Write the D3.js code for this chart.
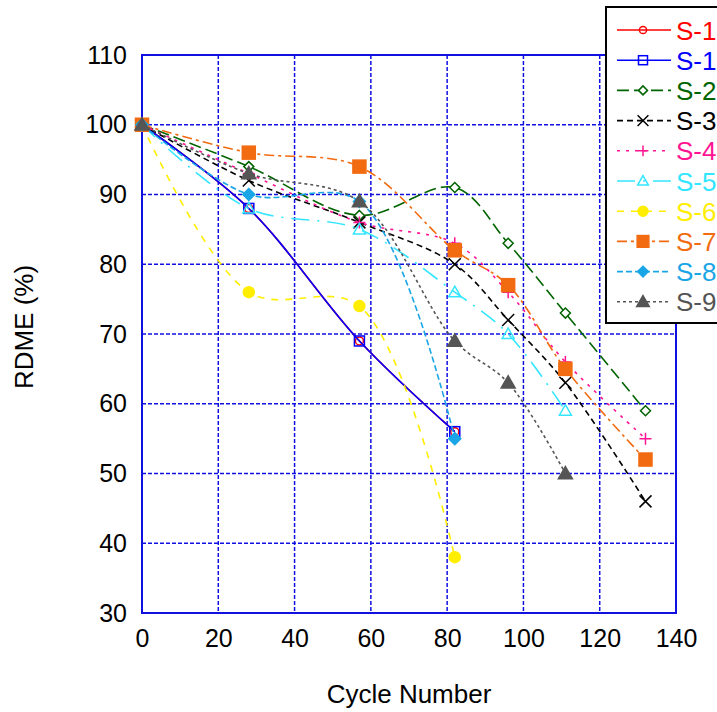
<!DOCTYPE html>
<html><head><meta charset="utf-8">
<script src="https://cdn.jsdelivr.net/npm/d3@7"></script>
<style>body{margin:0;background:#fff;}svg{display:block;font-family:"Liberation Sans",Arial,sans-serif;}</style>
</head><body><svg id="c" width="717" height="712"></svg>
<script>
const cycles = [0, 28, 57, 82, 96, 111, 132];
const seriesNames = ["S-1", "S-1", "S-2", "S-3", "S-4", "S-5", "S-6", "S-7", "S-8", "S-9"];
const s1a = [100, 88, 69, 56];
const s1b = [100, 88, 69, 56];
const s2 = [100, 94, 87, 91, 83, 73, 59];
const s3 = [100, 92, 86, 80, 72, 63, 46];
const s4 = [100, 93, 86, 83, 76, 66, 55];
const s5 = [100, 88, 85, 76, 70, 59];
const s6 = [100, 76, 74, 38];
const s7 = [100, 96, 94, 82, 77, 65, 52];
const s8 = [100, 90, 89, 55];
const s9 = [100, 93, 89, 69, 63, 50];
const xTicks = [0, 20, 40, 60, 80, 100, 120, 140];
const yTicks = [30, 40, 50, 60, 70, 80, 90, 100, 110];

const styles = [
  {color:"#ff0000", dash:null, marker:"circle", fill:false, size:4},
  {color:"#0000ff", dash:null, marker:"square", fill:false, size:5},
  {color:"#006400", dash:"12,5", marker:"diamond", fill:false, size:5},
  {color:"#000000", dash:"6,4", marker:"x", fill:false, size:6},
  {color:"#ff1493", dash:"3,6", marker:"plus", fill:false, size:6},
  {color:"#33e6ff", dash:"18,8,2,8", marker:"triangle", fill:false, size:6},
  {color:"#ffee00", dash:"7,7", marker:"circle", fill:true, size:5.5},
  {color:"#f26b10", dash:"10,4,3,4", marker:"square", fill:true, size:6.5},
  {color:"#1aa6e6", dash:"6,3", marker:"diamond", fill:true, size:6},
  {color:"#555555", dash:"3,3", marker:"triangle", fill:true, size:7}
];
const allVals = [s1a, s1b, s2, s3, s4, s5, s6, s7, s8, s9];

const svg = d3.select("#c");
const L = 142, R = 676, T = 55, B = 613;
const x = d3.scaleLinear().domain([0, 140]).range([L, R]);
const y = d3.scaleLinear().domain([30, 110]).range([B, T]);
const grid = "#1010e0";

// gridlines
svg.append("g").selectAll("line").data(xTicks).join("line")
  .attr("x1", d => x(d)).attr("x2", d => x(d)).attr("y1", T).attr("y2", B)
  .attr("stroke", grid).attr("stroke-width", 1.5).attr("stroke-dasharray", "4,2");
svg.append("g").selectAll("line").data(yTicks).join("line")
  .attr("x1", L).attr("x2", R).attr("y1", d => y(d)).attr("y2", d => y(d))
  .attr("stroke", grid).attr("stroke-width", 1.5).attr("stroke-dasharray", "4,2");
svg.append("rect").attr("x", L).attr("y", T).attr("width", R - L).attr("height", B - T)
  .attr("fill", "none").attr("stroke", grid).attr("stroke-width", 2);

// axes
const xa = svg.append("g").attr("transform", `translate(0,${B})`)
  .call(d3.axisBottom(x).tickValues(xTicks).tickSize(0).tickPadding(16));
const ya = svg.append("g").attr("transform", `translate(${L},0)`)
  .call(d3.axisLeft(y).tickValues(yTicks).tickSize(0).tickPadding(15));
[xa, ya].forEach(a => {
  a.select(".domain").remove();
  a.selectAll("text").attr("font-size", 25).attr("fill", "#000").attr("font-family", "Liberation Sans, Arial, sans-serif");
});
svg.append("text").attr("x", (L + R) / 2).attr("y", 703).attr("text-anchor", "middle")
  .attr("font-size", 26).text("Cycle Number");
svg.append("text").attr("transform", `translate(33,327) rotate(-90)`).attr("text-anchor", "middle")
  .attr("font-size", 26).text("RDME (%)");

function drawMarker(g, st, cx, cy, k) {
  const s = st.size * (k || 1), c = st.color;
  if (st.marker === "circle") g.append("circle").attr("cx", cx).attr("cy", cy).attr("r", s).attr("fill", st.fill ? c : "none").attr("stroke", c).attr("stroke-width", 1.5);
  else if (st.marker === "square") g.append("rect").attr("x", cx - s).attr("y", cy - s).attr("width", 2 * s).attr("height", 2 * s).attr("fill", st.fill ? c : "none").attr("stroke", c).attr("stroke-width", 1.5);
  else if (st.marker === "diamond") g.append("path").attr("d", `M${cx},${cy - s}L${cx + s},${cy}L${cx},${cy + s}L${cx - s},${cy}Z`).attr("fill", st.fill ? c : "#fff").attr("stroke", c).attr("stroke-width", 1.5);
  else if (st.marker === "triangle") g.append("path").attr("d", `M${cx},${cy - s}L${cx + s},${cy + s * 0.75}L${cx - s},${cy + s * 0.75}Z`).attr("fill", st.fill ? c : "none").attr("stroke", c).attr("stroke-width", 1.5);
  else if (st.marker === "x") g.append("path").attr("d", `M${cx - s},${cy - s}L${cx + s},${cy + s}M${cx - s},${cy + s}L${cx + s},${cy - s}`).attr("stroke", c).attr("stroke-width", 1.5);
  else if (st.marker === "plus") g.append("path").attr("d", `M${cx - s},${cy}L${cx + s},${cy}M${cx},${cy - s}L${cx},${cy + s}`).attr("stroke", c).attr("stroke-width", 1.5);
}

const line = d3.line().x(d => x(d[0])).y(d => y(d[1])).curve(d3.curveCatmullRom.alpha(0.5));
allVals.forEach((vals, i) => {
  const st = styles[i];
  const pts = vals.map((v, j) => [cycles[j], v]);
  const g = svg.append("g");
  g.append("path").attr("d", line(pts)).attr("fill", "none").attr("stroke", st.color)
    .attr("stroke-width", 1.6).attr("stroke-dasharray", st.dash);
  pts.forEach(p => drawMarker(g, st, x(p[0]), y(p[1])));
});

// legend
const lg = svg.append("g");
lg.append("rect").attr("x", 606).attr("y", 7).attr("width", 130).attr("height", 316)
  .attr("fill", "#fff").attr("stroke", "#000").attr("stroke-width", 2);
seriesNames.forEach((n, i) => {
  const st = styles[i];
  const yy = 30 + i * 30.2;
  lg.append("line").attr("x1", 617).attr("x2", 671).attr("y1", yy).attr("y2", yy)
    .attr("stroke", st.color).attr("stroke-width", 1.6).attr("stroke-dasharray", st.dash);
  drawMarker(lg, st, 643, yy, 0.9);
  lg.append("text").attr("x", 676).attr("y", yy + 9.5).attr("font-size", 26).attr("fill", st.color).text(n);
});
</script></body></html>
